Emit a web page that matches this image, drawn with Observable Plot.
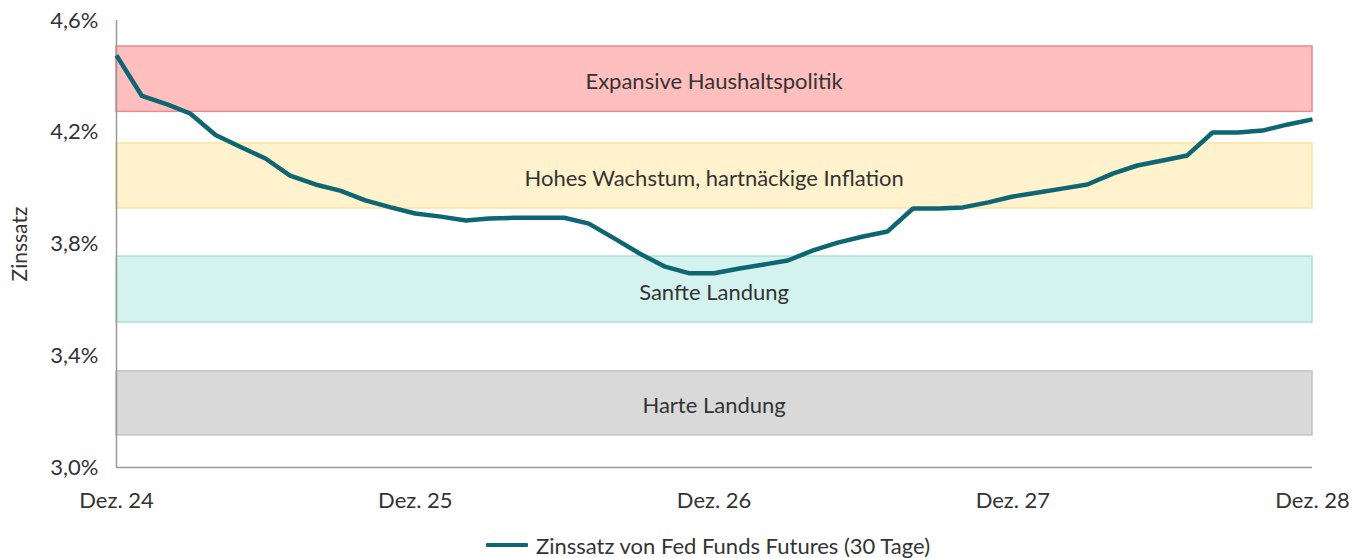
<!DOCTYPE html>
<html>
<head>
<meta charset="utf-8">
<script src="https://cdn.jsdelivr.net/npm/d3@7"></script>
<script src="https://cdn.jsdelivr.net/npm/@observablehq/plot@0.6"></script>
<style>
  html, body { margin: 0; padding: 0; background: #fff; }
  body { width: 1366px; height: 558px; overflow: hidden; font-family: Lato, "Noto Sans", sans-serif; color: #333; }
  #legend { height: 50px; display: flex; justify-content: center; align-items: center; font-size: 22px; color: #333; padding-left: 50px; }
  #legend .sw { width: 42px; height: 4px; background: #0e6672; margin-right: 8px; border-radius: 1px; }
</style>
</head>
<body>
<div id="chart"></div>
<div id="legend"><span class="sw"></span><span id="legtext"></span></div>
<script>
const startMonth = "2024-12-01";
const endMonth = "2028-12-01";
const rates = [
  4.475, 4.33, 4.30, 4.267, 4.19, 4.148, 4.106, 4.045, 4.013, 3.99,
  3.956, 3.931, 3.909, 3.898, 3.884, 3.891, 3.894, 3.894, 3.894, 3.873,
  3.82, 3.766, 3.72, 3.695, 3.695, 3.712, 3.727, 3.741, 3.777, 3.805,
  3.827, 3.845, 3.927, 3.927, 3.931, 3.949, 3.97, 3.984, 3.999, 4.013,
  4.052, 4.081, 4.099, 4.117, 4.199, 4.199, 4.206, 4.228, 4.246
];
const bandLabels = ["Expansive Haushaltspolitik", "Hohes Wachstum, hartnäckige Inflation", "Sanfte Landung", "Harte Landung"];
const bandLow = [4.273, 3.927, 3.519, 3.115];
const bandHigh = [4.507, 4.160, 3.755, 3.344];
const bandFill = ["#ffbfbf", "#fff2cc", "#d5f3ee", "#d9d9d9"];
const bandStroke = ["#f0898c", "#ffe3a0", "#a9e2d7", "#c2c2c2"];
const yTicks = [3.0, 3.4, 3.8, 4.2, 4.6];
const xTickLabels = ["Dez. 24", "Dez. 25", "Dez. 26", "Dez. 27", "Dez. 28"];
const yLabel = "Zinssatz";
const seriesName = "Zinssatz von Fed Funds Futures (30 Tage)";

const t0 = new Date(startMonth), t1 = new Date(endMonth);
const months = d3.utcMonth.range(t0, d3.utcMonth.offset(t1, 1));
const series = months.map((d, i) => ({date: d, rate: rates[i]}));
const bands = bandLabels.map((l, i) => ({label: l, lo: bandLow[i], hi: bandHigh[i], fill: bandFill[i], stroke: bandStroke[i]}));
const xTicks = xTickLabels.map((_, i) => d3.utcYear.offset(t0, i));
const mid = xTicks[2];
const fmtY = d => d.toFixed(1).replace(".", ",") + "%";

const plot = Plot.plot({
  width: 1366,
  height: 520,
  marginLeft: 116,
  marginRight: 54,
  marginTop: 20,
  marginBottom: 53,
  style: {fontFamily: "Lato, 'Noto Sans', sans-serif", fontSize: "22px", color: "#333", background: "#fff"},
  x: {type: "utc", domain: [t0, t1]},
  y: {domain: [3.0, 4.6]},
  marks: [
    Plot.rect(bands, {x1: () => t0, x2: () => t1, y1: "lo", y2: "hi", fill: "fill", stroke: "stroke", strokeWidth: 1.5}),
    Plot.text(bands, {x: () => mid, y: d => (d.lo + d.hi) / 2, text: "label", fill: "#333", fontSize: 22, dy: 3}),
    Plot.ruleX([t0], {stroke: "#999", strokeWidth: 1.5}),
    Plot.ruleY([3.0], {stroke: "#999", strokeWidth: 1.5}),
    Plot.axisY({ticks: yTicks, tickFormat: fmtY, tickSize: 0, tickPadding: 18, label: null, fill: "#333", fontSize: 22}),
    Plot.text([yLabel], {frameAnchor: "left", textAnchor: "middle", dx: -96, rotate: -90, fill: "#333", fontSize: 21}),
    Plot.axisX({ticks: xTicks, tickFormat: (d, i) => xTickLabels[i], tickSize: 0, tickPadding: 25, label: null, fill: "#333", fontSize: 22}),
    Plot.line(series, {x: "date", y: "rate", stroke: "#0e6672", strokeWidth: 4.5, strokeLinejoin: "round", strokeLinecap: "butt"})
  ]
});
document.getElementById("chart").appendChild(plot);
document.getElementById("legtext").textContent = seriesName;
</script>
</body>
</html>
